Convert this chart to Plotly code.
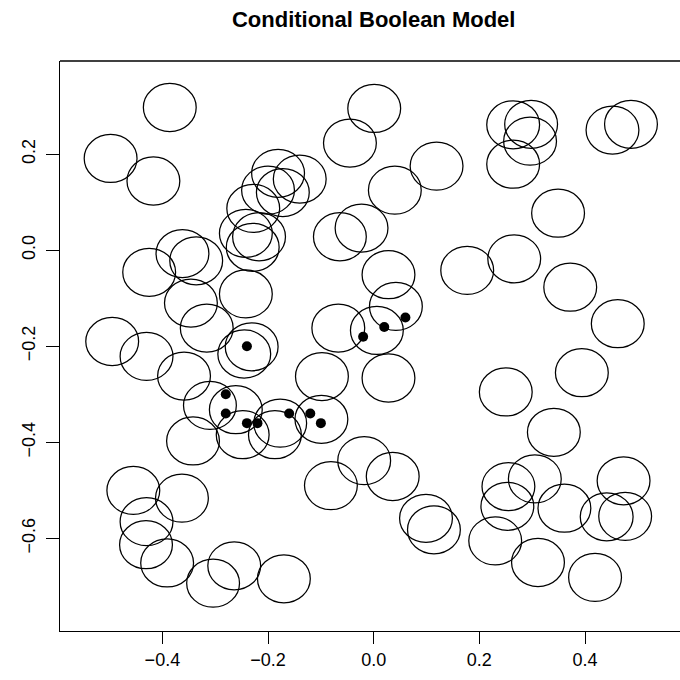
import plotly.graph_objects as go

# Disc centres of the Boolean model (common radius)
disc_x = [-0.386, -0.498, -0.417, -0.181, -0.140, -0.200, -0.172, -0.228, -0.242, -0.217,
          -0.229, -0.045, 0.001, -0.064, -0.023, -0.362, -0.336, -0.425, 0.119, 0.040,
          0.264, 0.298, 0.296, 0.264, 0.452, 0.487, 0.349, 0.266, 0.177, 0.028,
          0.372, -0.242, -0.346, -0.316, -0.231, -0.245, -0.495, -0.430, -0.359, -0.310,
          -0.261, -0.342, -0.248, -0.177, -0.187, -0.099, -0.098, -0.067, 0.006, 0.042,
          0.028, -0.018, 0.036, 0.462, 0.394, 0.250, 0.341, -0.081, -0.455, -0.363,
          -0.430, -0.431, -0.391, -0.304, -0.264, -0.170, 0.099, 0.114, 0.230, 0.255,
          0.253, 0.305, 0.361, 0.311, 0.473, 0.441, 0.476, 0.419]
disc_y = [0.297, 0.191, 0.144, 0.160, 0.148, 0.125, 0.120, 0.087, 0.035, 0.028,
          0.006, 0.223, 0.295, 0.028, 0.046, -0.007, -0.022, -0.046, 0.175, 0.125,
          0.261, 0.262, 0.227, 0.179, 0.250, 0.262, 0.077, -0.018, -0.042, -0.051,
          -0.077, -0.091, -0.110, -0.162, -0.201, -0.216, -0.190, -0.221, -0.262, -0.323,
          -0.332, -0.397, -0.384, -0.360, -0.384, -0.352, -0.263, -0.162, -0.167, -0.117,
          -0.266, -0.438, -0.471, -0.153, -0.255, -0.295, -0.379, -0.490, -0.500, -0.516,
          -0.565, -0.613, -0.651, -0.693, -0.657, -0.684, -0.558, -0.582, -0.605, -0.492,
          -0.533, -0.476, -0.537, -0.650, -0.480, -0.555, -0.554, -0.681]
disc_radius = 0.05

# Conditioning points
pt_x = [-0.24, -0.28, -0.28, -0.24, -0.22, -0.16, -0.12, -0.10, -0.02, 0.02, 0.06]
pt_y = [-0.20, -0.30, -0.34, -0.36, -0.36, -0.34, -0.34, -0.36, -0.18, -0.16, -0.14]

tick_vals = [-0.6, -0.4, -0.2, 0.0, 0.2, 0.4]
tick_text = ["\u22120.6", "\u22120.4", "\u22120.2", "0.0", "0.2", "0.4"]
x_tick_vals = [-0.4, -0.2, 0.0, 0.2, 0.4]
x_tick_text = ["\u22120.4", "\u22120.2", "0.0", "0.2", "0.4"]

title_text = "Conditional Boolean Model"

fig = go.Figure()

fig.add_trace(go.Scatter(
    x=pt_x, y=pt_y, mode="markers",
    marker=dict(color="black", size=10, line=dict(width=0)),
    hoverinfo="skip", showlegend=False,
))

shapes = []
for cx, cy in zip(disc_x, disc_y):
    shapes.append(dict(
        type="circle", xref="x", yref="y",
        x0=cx - disc_radius, x1=cx + disc_radius,
        y0=cy - disc_radius, y1=cy + disc_radius,
        line=dict(color="black", width=1.25),
        fillcolor="rgba(0,0,0,0)",
    ))
# top edge of the frame
shapes.append(dict(type="line", xref="paper", yref="paper",
                   x0=0, x1=1, y0=1, y1=1,
                   line=dict(color="black", width=1.3)))

font_family = "Liberation Sans, Arial, sans-serif"

fig.update_layout(
    width=680, height=680,
    margin=dict(l=60, r=0, t=61, b=49),
    paper_bgcolor="white", plot_bgcolor="white",
    shapes=shapes,
    showlegend=False,
    title=dict(
        text="<b>" + title_text + "</b>",
        font=dict(family=font_family, size=22, color="black"),
        xref="container", yref="container",
        x=373.7 / 680, xanchor="center",
        y=1 - 19 / 680, yanchor="middle",
    ),
    font=dict(family=font_family, size=18, color="black"),
    xaxis=dict(
        range=[-0.5938, 0.5798],
        showgrid=False, zeroline=False,
        showline=True, linecolor="black", linewidth=1.3,
        ticks="outside", ticklen=12, tickwidth=1.3, tickcolor="black",
        tickvals=x_tick_vals, ticktext=x_tick_text,
        tickfont=dict(family=font_family, size=18, color="black"),
    ),
    yaxis=dict(
        range=[-0.7926, 0.3938],
        showgrid=False, zeroline=False,
        showline=True, linecolor="black", linewidth=1.3,
        ticks="outside", ticklen=13, tickwidth=1.3, tickcolor="black",
        tickvals=tick_vals, ticktext=tick_text, tickangle=-90,
        ticklabelstandoff=4,
        tickfont=dict(family=font_family, size=18, color="black"),
    ),
)

fig.write_html("out.html", config={"displayModeBar": False})
